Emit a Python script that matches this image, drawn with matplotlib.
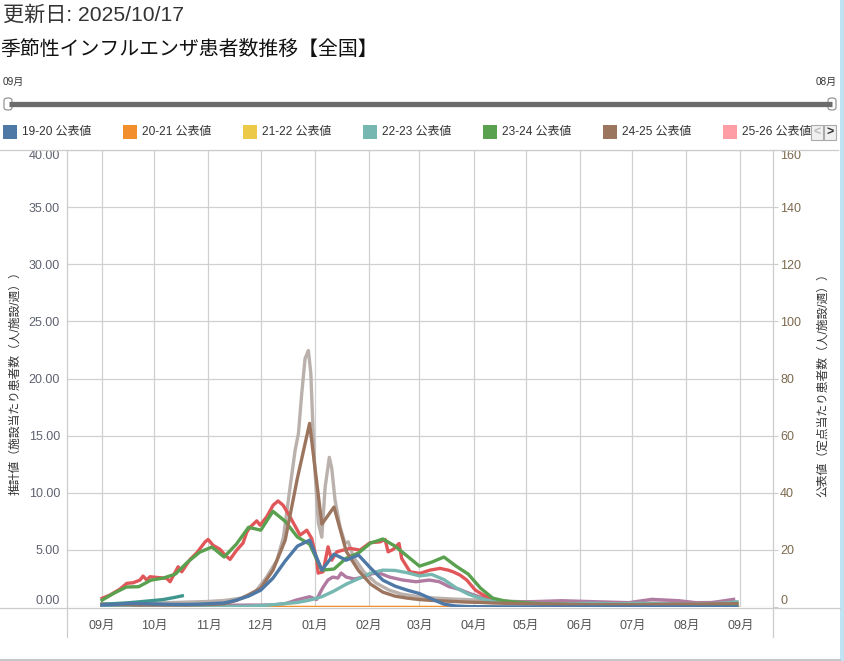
import matplotlib
matplotlib.use("Agg")
import matplotlib.pyplot as plt
from matplotlib.patches import Rectangle, FancyBboxPatch
from matplotlib.lines import Line2D

plt.rcParams['font.family'] = ['Liberation Sans', 'Noto Sans CJK JP']

W, H = 845, 661

# 横軸: 9/1 からの日数
month_labels = ['09月', '10月', '11月', '12月', '01月', '02月', '03月',
                '04月', '05月', '06月', '07月', '08月', '09月']
month_len = [30, 31, 30, 31, 31, 29, 31, 30, 31, 30, 31, 31]
month_pos = [0]
for d in month_len:
    month_pos.append(month_pos[-1] + d)

# 公表値（週ごと, 右軸）
week_days = [7 * i for i in range(53)]
pub_1920 = [0.7, 0.9, 1.2, 1.2, 1.1, 1.0, 0.9, 0.9, 1.0, 1.2, 1.4, 2.4, 3.8,
            5.9, 10.1, 16.1, 21.3, 23.4, 12.9, 18.5, 16.4, 18.2, 13.6, 9.4,
            7.3, 5.9, 4.7, 2.8, 1.0, 0.35, 0.15, 0.1, 0.08, 0.05, 0.04, 0.03,
            0.03, 0.02, 0.02, 0.02, 0.02, 0.02, 0.02, 0.02, 0.02, 0.02, 0.02,
            0.02, 0.02, 0.02, 0.02, 0.02, 0.02]
pub_2021 = [0.02] * 53
pub_2122 = [0.01] * 53
pub_2223 = [0.1, 0.1, 0.1, 0.1, 0.1, 0.1, 0.1, 0.1, 0.1, 0.1, 0.15, 0.2, 0.3,
            0.5, 0.8, 1.2, 1.6, 2.4, 3.6, 5.6, 8.0, 9.9, 11.8, 12.9, 12.8,
            12.0, 10.9, 11.4, 9.6, 6.7, 4.5, 3.0, 2.0, 1.6, 1.4, 1.3, 1.2, 1.1,
            1.1, 1.2, 1.3, 1.2, 1.1, 1.2, 1.3, 1.2, 1.1, 1.1, 1.0, 1.1, 1.2,
            1.4, 1.8]
pub_2324 = [2.4, 4.9, 7.0, 7.1, 9.4, 10.1, 11.5, 15.7, 19.2, 21.0, 17.5,
            22.0, 27.9, 26.9, 33.5, 30.0, 24.5, 22.0, 12.9, 13.3, 17.1, 18.9,
            22.4, 23.8, 21.3, 17.8, 14.3, 15.7, 17.5, 14.3, 11.5, 6.6, 3.1,
            2.1, 1.7, 1.4, 1.1, 1.0, 0.9, 0.8, 0.8, 0.7, 0.7, 0.6, 0.6, 0.6,
            0.5, 0.5, 0.5, 0.6, 0.6, 0.7, 0.8]
pub_2425 = [0.9, 0.8, 0.8, 0.7, 0.7, 0.7, 0.7, 0.7, 0.8, 0.9, 1.1, 2.3, 4.2,
            6.6, 12.9, 23.4, 45.1, 64.3, 29.0, 35.0, 19.5, 12.8, 8.0, 5.2,
            3.8, 3.1, 2.6, 2.3, 2.1, 1.9, 1.7, 1.6, 1.4, 1.3, 1.2, 1.1, 1.0,
            1.0, 0.9, 0.9, 0.8, 0.8, 0.8, 0.8, 0.8, 0.9, 0.9, 1.0, 1.0, 1.0,
            1.1, 1.1, 1.2]

# 推計値（左軸）
est_a_days = [0, 4.6, 10.3, 14.2, 17.8, 21.8, 23.5, 25.6, 27.5, 31.4, 37.1,
              39.0, 43.6, 45.7, 50.5, 54.3, 59.1, 60.8, 63.6, 67.7, 70.5, 73.4,
              77.2, 80.8, 83.0, 84.9, 88.7, 90.6, 94.4, 98.1, 100.9, 103.8,
              107.8, 113.5, 117.4, 120.2, 123.1, 123.9, 126.7, 129.6, 131.7,
              134.6, 138.2, 142.2, 147.9, 153.7, 159.4, 162.3, 164.0, 166.9,
              170.3, 171.8, 176.6, 182.3, 188.1, 193.8, 198.4, 201.3, 205.3,
              209.1, 214.0, 218.6, 222.5]
est_a_vals = [0.76, 1.05, 1.57, 2.07, 2.12, 2.36, 2.71, 2.36, 2.65, 2.59, 2.51,
              2.21, 3.52, 3.08, 4.17, 4.74, 5.70, 5.91, 5.41, 5.04, 4.54, 4.17,
              4.98, 5.59, 6.55, 6.99, 7.54, 7.16, 7.89, 8.91, 9.28, 8.91, 7.89,
              6.29, 6.72, 6.00, 4.10, 2.97, 3.08, 5.27, 4.10, 4.83, 4.98, 5.13,
              4.98, 5.63, 5.70, 5.91, 4.83, 5.04, 5.56, 4.25, 3.08, 2.94, 3.23,
              3.38, 3.23, 3.08, 2.79, 2.36, 1.48, 1.05, 0.76]

est_b_days = [0, 20.1, 40.1, 60.2, 70, 80.3, 88.3, 94.4, 100.3, 104, 107.8,
              110.7, 112.6, 114.5, 116.4, 118.3, 119.7, 121.6, 124, 126, 127.9,
              130.3, 131.7, 133.6, 136.5, 139.3, 141.2, 144.1, 150.2, 157.1,
              164.6, 171.4, 180.6, 190.4, 200.7, 215.6, 230.5, 245.4, 260, 280,
              300, 320, 340, 364]
est_b_vals = [0.26, 0.30, 0.39, 0.48, 0.57, 0.79, 1.40, 2.62, 4.10, 6.11, 10.48,
              13.71, 15.2, 18.69, 21.75, 22.45, 20.44, 13.1, 7.34, 6.11, 10.48,
              13.1, 12.14, 9.34, 6.99, 5.59, 5.70, 4.37, 3.06, 2.10, 1.48, 1.14,
              0.92, 0.79, 0.70, 0.61, 0.52, 0.44, 0.40, 0.35, 0.33, 0.35, 0.38,
              0.42]

est_c_days = [0, 27.5, 56, 84.7, 97.8, 105.7, 111.4, 119, 123, 126.6, 129.5,
              132.3, 135.2, 137.1, 140, 144.7, 149.5, 155.2, 159, 164.8, 172.4,
              180, 187.6, 193.4, 199.1, 204.8, 210.5, 216.2, 223.7, 233.4,
              244.9, 263.7, 283.2, 302, 315.2, 330.7, 340.4, 349.5, 362.1]
est_c_vals = [0.09, 0.09, 0.13, 0.17, 0.17, 0.32, 0.61, 0.90, 0.66, 1.70, 2.36,
              2.62, 2.53, 2.97, 2.62, 2.45, 2.62, 2.93, 2.97, 2.62, 2.36, 2.21,
              2.36, 2.21, 1.77, 1.55, 1.20, 0.90, 0.61, 0.46, 0.46, 0.55, 0.46,
              0.38, 0.67, 0.55, 0.38, 0.38, 0.67]

est_d_days = [0, 7, 14, 21, 28, 35, 42, 46]
est_d_vals = [0.25, 0.3, 0.36, 0.45, 0.55, 0.65, 0.85, 0.98]

legend_names = ['19-20 公表値', '20-21 公表値', '21-22 公表値', '22-23 公表値',
                '23-24 公表値', '24-25 公表値', '25-26 公表値']
legend_colors = ['#4e79a7', '#f28e2b', '#edc948', '#76b7b2', '#59a14f',
                 '#9c755f', '#ff9da7']


def fx(px):
    return px / W


def fy(py):
    return 1 - py / H


fig = plt.figure(figsize=(W / 100, H / 100), dpi=100)

ax = fig.add_axes([fx(67), fy(607), (773 - 67) / W, (607 - 150) / H])
ax2 = ax.twinx()

lw = 2.4
ax.plot(est_b_days, est_b_vals, color='#bab0ac', lw=lw, solid_joinstyle='round')
ax.plot(est_c_days, est_c_vals, color='#b07aa1', lw=lw, solid_joinstyle='round')
ax.plot(est_a_days, est_a_vals, color='#e15759', lw=lw, solid_joinstyle='round')
ax.plot(est_d_days, est_d_vals, color='#3f968f', lw=lw, solid_joinstyle='round')

ax2.plot(week_days, pub_2122, color='#edc948', lw=lw)
ax2.plot(week_days, pub_2021, color='#f28e2b', lw=lw)
ax2.plot(week_days, pub_2223, color='#76b7b2', lw=lw, solid_joinstyle='round')
ax2.plot(week_days, pub_2324, color='#59a14f', lw=lw, solid_joinstyle='round')
ax2.plot(week_days, pub_2425, color='#9c755f', lw=lw, solid_joinstyle='round')
ax2.plot(week_days, pub_1920, color='#4e79a7', lw=lw, solid_joinstyle='round')

ax.set_xlim(-20.1, 384.7)
ax.set_ylim(0, 40)
ax2.set_ylim(0, 160)

ax.set_xticks(month_pos)
ax.set_xticklabels(month_labels)
ax.set_yticks(range(0, 41, 5))
ax.set_yticklabels(['%.2f' % v for v in range(0, 41, 5)])
ax2.set_yticks(range(0, 161, 20))
ax2.set_yticklabels([str(v) for v in range(0, 161, 20)])

ax.grid(True, color='#d0d0d0', lw=0.9)
ax.set_axisbelow(True)
for a in (ax, ax2):
    for s in a.spines.values():
        s.set_visible(False)

ax.tick_params(axis='x', length=0, pad=9, labelsize=9, labelcolor='#555555')
ax.tick_params(axis='y', length=0, pad=5, labelsize=9, labelcolor='#5f6270')
ax2.tick_params(axis='y', length=3.6, width=0.8, color='#cccccc', pad=1.5,
                labelsize=9, labelcolor='#7d6a4f')
for a in (ax, ax2):
    labs = a.get_yticklabels()
    labs[0].set_va('bottom')
    labs[-1].set_va('top')

# 枠線
lc = '#cccccc'
fig.add_artist(Line2D([fx(0), fx(838)], [fy(150), fy(150)], color=lc, lw=0.9))
fig.add_artist(Line2D([fx(0), fx(840)], [fy(607.5), fy(607.5)], color=lc, lw=0.9))
fig.add_artist(Line2D([fx(67), fx(67)], [fy(150), fy(637)], color=lc, lw=0.9))
fig.add_artist(Line2D([fx(773), fx(773)], [fy(150), fy(637)], color=lc, lw=0.9))
fig.add_artist(Line2D([fx(0), fx(840)], [fy(659.5), fy(659.5)], color='#bbbbbb', lw=1.2))
fig.add_artist(Rectangle((fx(840), 0), fx(5), 1, color='#bfe3f2', lw=0))

# 軸タイトル
fig.text(fx(15), fy(380), '推計値（施設当たり患者数（人/施設/週））', rotation=90,
         ha='center', va='center', fontsize=8.5, color='#333333')
fig.text(fx(823), fy(382), '公表値（定点当たり患者数（人/施設/週））', rotation=90,
         ha='center', va='center', fontsize=8.5, color='#333333')

# タイトル
fig.text(fx(3), fy(15), '更新日: 2025/10/17', ha='left', va='center',
         fontsize=15.2, color='#333333')
fig.text(fx(0), fy(49), '季節性インフルエンザ患者数推移【全国】', ha='left',
         va='center', fontsize=14.3, color='#111111')

# スライダー
fig.text(fx(3), fy(82), '09月', ha='left', va='center', fontsize=7.2, color='#333333')
fig.text(fx(837), fy(82), '08月', ha='right', va='center', fontsize=7.2, color='#333333')
fig.add_artist(Line2D([fx(9), fx(832)], [fy(104), fy(104)], color='#6b6b6b', lw=3.8,
                      solid_capstyle='butt'))
for hx in (8, 832):
    fig.add_artist(FancyBboxPatch((fx(hx - 4), fy(110)), fx(8), 12 / H,
                                  boxstyle='round,pad=0,rounding_size=0.004',
                                  facecolor='white', edgecolor='#888888', lw=0.8))

# 凡例
for k, (name, col) in enumerate(zip(legend_names, legend_colors)):
    x0 = 3 + 120 * k
    fig.add_artist(Rectangle((fx(x0), fy(139)), fx(14), 14 / H, color=col, lw=0))
    fig.text(fx(x0 + 19), fy(132), name, ha='left', va='center', fontsize=8.6,
             color='#333333')
fig.add_artist(Rectangle((fx(811), fy(142)), fx(29), 18 / H, facecolor='white',
                         edgecolor='none', zorder=5))
for bx, ch, cc in ((811, '<', '#bbbbbb'), (824, '>', '#333333')):
    fig.add_artist(Rectangle((fx(bx), fy(140)), fx(12), 15 / H, facecolor='#f0f0f0',
                             edgecolor='#aaaaaa', lw=0.8, zorder=6))
    fig.text(fx(bx + 6), fy(132.5), ch, ha='center', va='center', fontsize=9,
             color=cc, zorder=7, fontweight='bold')

fig.savefig('out.png', dpi=100)
